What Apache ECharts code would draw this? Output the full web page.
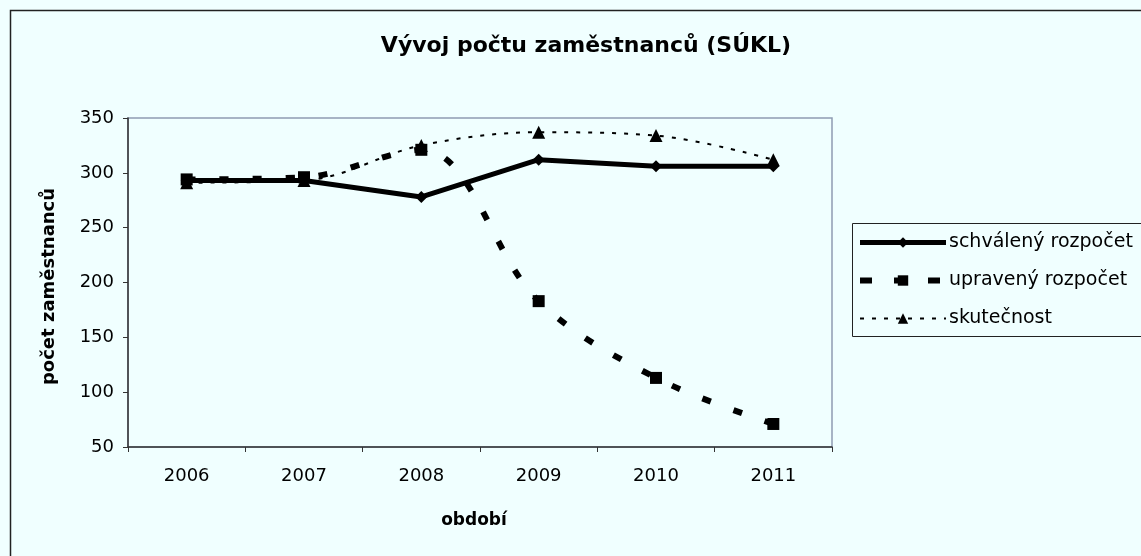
<!DOCTYPE html>
<html>
<head>
<meta charset="utf-8">
<script src="https://cdn.jsdelivr.net/npm/echarts@6/dist/echarts.min.js"></script>
<style>
html,body{margin:0;padding:0;background:#F0FFFF;}
#chart{width:1141px;height:556px;}
</style>
</head>
<body>
<div id="chart"></div>
<script>
const categories = ['2006', '2007', '2008', '2009', '2010', '2011'];
const schvaleny = [293, 293, 278, 312, 306, 306];
const upraveny = [294, 296, 321, 183, 113, 71];
const skutecnost = [291, 293, 325, 337, 334, 312];
const yTicks = { min: 50, max: 350, interval: 50 };

const chart = echarts.init(document.getElementById('chart'), null, { renderer: 'canvas' });
const FONT = '"DejaVu Sans", Verdana, sans-serif';

const styles = {
  schv: { color: '#000', width: 5, type: 'solid' },
  upr: { color: '#000', width: 6, type: [9, 24], cap: 'butt' },
  sku: { color: '#000', width: 2, type: [4, 8], cap: 'butt' }
};

chart.setOption({
  backgroundColor: '#F0FFFF',
  animation: false,
  title: {
    text: 'Vývoj počtu zaměstnanců (SÚKL)',
    left: 581, top: 30, textAlign: 'center',
    textStyle: { fontFamily: FONT, fontSize: 22, fontWeight: 'bold', color: '#000' }
  },
  graphic: [
    { type: 'rect', shape: { x: 10.5, y: 10.5, width: 1200, height: 700 }, style: { fill: null, stroke: '#222', lineWidth: 1.5 }, z: 100 },
    { type: 'rect', shape: { x: 852.5, y: 223.5, width: 400, height: 113 }, style: { fill: null, stroke: '#222', lineWidth: 1 }, z: 100 }
  ],
  legend: {
    orient: 'vertical',
    left: 852, top: 227,
    itemWidth: 86, itemHeight: 13, itemGap: 17,
    textStyle: { fontFamily: FONT, fontSize: 19, lineHeight: 21, color: '#000', padding: [0, 0, 0, -2] },
    data: [
      { name: 'schválený rozpočet', lineStyle: styles.schv },
      { name: 'upravený rozpočet', lineStyle: { color: '#000', width: 6, type: [12, 22] } },
      { name: 'skutečnost', lineStyle: styles.sku }
    ]
  },
  grid: {
    left: 128, right: 309, top: 118, bottom: 109,
    show: true, backgroundColor: '#F0FFFF', borderColor: '#8E9CB3', borderWidth: 1.5
  },
  xAxis: {
    type: 'category', data: categories, boundaryGap: true,
    name: 'období', nameLocation: 'middle', nameGap: 65,
    nameTextStyle: { fontFamily: FONT, fontSize: 17, fontWeight: 'bold', color: '#000', padding: [0, 12, 0, 0] },
    axisLine: { lineStyle: { color: '#333', width: 1.5 } },
    axisTick: { show: true, length: 5, lineStyle: { color: '#333' } },
    axisLabel: { fontFamily: FONT, fontSize: 18, color: '#000', margin: 20 },
    splitLine: { show: false }
  },
  yAxis: {
    type: 'value', min: yTicks.min, max: yTicks.max, interval: yTicks.interval,
    name: 'počet zaměstnanců', nameLocation: 'middle', nameGap: 70,
    nameTextStyle: { fontFamily: FONT, fontSize: 18, fontWeight: 'bold', color: '#000', padding: [0, 8, 0, 0] },
    axisLine: { show: true, lineStyle: { color: '#333', width: 1.5 } },
    axisTick: { show: true, length: 5, lineStyle: { color: '#333' } },
    axisLabel: { fontFamily: FONT, fontSize: 18, color: '#000', margin: 14 },
    splitLine: { show: false }
  },
  series: [
    {
      name: 'schválený rozpočet', type: 'line', data: schvaleny,
      symbol: 'diamond', symbolSize: 12, showAllSymbol: true,
      lineStyle: styles.schv,
      itemStyle: { color: '#000' }, z: 3
    },
    {
      name: 'upravený rozpočet', type: 'line', data: upraveny, smooth: 0.35,
      symbol: 'rect', symbolSize: 12,
      lineStyle: styles.upr,
      itemStyle: { color: '#000' }, z: 4
    },
    {
      name: 'skutečnost', type: 'line', data: skutecnost, smooth: 0.35,
      symbol: 'triangle', symbolSize: 13,
      lineStyle: styles.sku,
      itemStyle: { color: '#000' }, z: 5
    }
  ]
});
</script>
</body>
</html>
